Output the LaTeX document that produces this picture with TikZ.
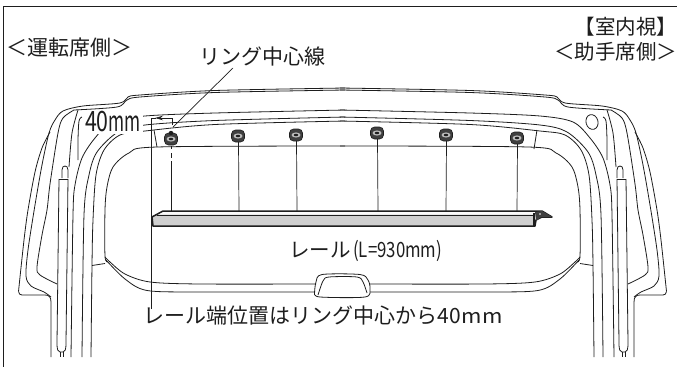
\documentclass[tikz,border=0pt]{standalone}
\usepackage{fontspec}
\setmainfont{Noto Sans CJK JP}
\usetikzlibrary{arrows.meta}
\definecolor{ink}{HTML}{1E1E1E}
\definecolor{railgray}{HTML}{CFCFCF}
\newcommand\jfs[1]{\fontsize{#1}{#1}\selectfont}
\newcommand\carside{%
  \draw[ln] (51,357) -- (51,302) .. controls (51,297) and (49,295) .. (45,295) -- (22,295) .. controls (20,295) and (19,294) .. (18.5,291.5);
  \draw[ln] plot[smooth,tension=.5] coordinates {(18.5,291.5)(24,240)(28,210)(35,172)(42,148)(50,132)};
  \draw[ln] plot[smooth,tension=.5] coordinates {(51,297)(44,292)(31,286)(26,276)(28,250)(35,205)(42,165)(49,133)(55,120)(63,111)(83,106)(120,103)(128,97)(140,95)(215,90.5)(345,88)};
  \draw[ln] plot[smooth,tension=.5] coordinates {(74,110)(117,107)(127,100)(140,97)(215,92.5)(345,90)};
  \draw[ln] plot[smooth,tension=.5] coordinates {(57,284)(40,275)(37,267)(42,235)(47,210)(50,184)(58,133)(63,118)(74,110)};
  \draw[ln] plot[smooth,tension=.5] coordinates {(82,117)(79,121)(78,140)(78,160)};
  \draw[ln] plot[smooth,tension=.5] coordinates {(78,110)(72,133)(69,167)};
  \draw[ln] (59,179) -- (57,343) .. controls (57,350) and (58,352) .. (60,352) -- (63,352) .. controls (65,352) and (66,350) .. (66,343) -- (68,179);
  \draw[ln] (60,352) -- (60,357) (63,352) -- (63,357);
  \draw[ln] (62,178) -- (62,170) .. controls (62,167) and (63.5,166) .. (65,166) .. controls (66.5,166) and (68,167) .. (68,170) -- (68,178);
  \draw[ink,line width=1pt] (59,179) -- (68,179);
  \draw[ln] plot[smooth,tension=.5] coordinates {(71,357)(73,215)(75,185)(82,158)(95,138)(112,122)(145,116)(215,113)(345,110)};
  \draw[ln] plot[smooth,tension=.5] coordinates {(82,357)(84,215)(89,175)(97,152)(118,132)(145,125)(215,120.5)(345,117)};
  \draw[ln] plot[smooth,tension=.5] coordinates {(91,357)(92,265)(93,220)(96,175)(104,150)(120,135)(145,131)(215,124.5)(345,121)};
  \draw[ln] (92,265.5) -- (105,263.5);
  \draw[ln] plot[smooth,tension=.5] coordinates {(108,262)(105,256)(105,210)(107,187)(113,167)(129,153)(157,147)(345,146)};
  \draw[ln] plot[smooth,tension=.5] coordinates {(105,257)(110,262)(125,274)(150,282)(200,284)(316,284)};
  \draw[ln] plot[smooth,tension=.5] coordinates {(106,260)(125,279)(147,290.5)(200,292)(315,292)};
}
\tikzset{
  ln/.style={ink,line width=.8pt,line join=round},
  thin line/.style={ink,line width=.7pt},
  lab/.style={inner sep=0pt,outer sep=0pt,text=ink,font=\jfs{20.5}},
  ringnode/.style={draw=ink,fill=ink!85,rounded corners=4pt,minimum width=13pt,minimum height=12pt,inner sep=0pt,line width=.6pt},
}
\begin{document}
\begin{tikzpicture}[x=1pt,y=-1pt]
\useasboundingbox (0,0) rectangle (677,367);
\fill[white] (0,0) rectangle (677,367);
% frame
\draw[ink,line width=1pt] (677,6.5) -- (3,6.5) -- (3,367);
% body, both sides
\carside
\begin{scope}[xshift=685pt,xscale=-1]
\carside
\end{scope}
% gap for the 40mm label
\fill[white] (84,111.5) rectangle (143,134.2);
% circle, seams
\draw[ln,rotate around={15:(592,122)}] (592,122) ellipse (6pt and 7.5pt);
\draw[ln] (154,130) -- (157,147);
\draw[ln] (537,130) -- (534,149);
% handle
\draw[ln] plot[smooth,tension=.5] coordinates {(314.5,293)(316,282)(322,274.5)(360,274.5)(368,280)(370,289)(365,297)(320,297)(314.5,293)};
\draw[ln] plot[smooth,tension=.5] coordinates {(318,295)(323,281)(329,277)(357,277)(363,282)(367,293)};
% rail
\fill[railgray] (152,216) -- (163,211.5) -- (533,211.5) -- (533,226) -- (152,226) -- cycle;
\fill[white!90!railgray] (163,212) -- (533,212) -- (533,214.5) -- (156,214.5) -- cycle;
\draw[ink,line width=1.5pt,line join=round] (152,217) -- (163,211) -- (542,211) -- (552,217) -- (542,217) -- (536,220) -- (535,226) -- (153,226) -- cycle;
\draw[ink,line width=.9pt] (157,215) -- (534,215);
\draw[ink,line width=1.3pt] (534,213) -- (534,226);
\fill[ink!85] (535,212) -- (542,211) -- (552,217) -- (541,217) -- (536,221) -- cycle;
\fill[white] (540,214) circle (.8pt);
% rings
\node[ringnode] (r1) at (171,139) {};
\fill[ink] (171,133) circle (2.2pt);
\node[ringnode] (r2) at (238,136) {};
\node[ringnode] (r3) at (296,135) {};
\node[ringnode] (r4) at (377,133) {};
\node[ringnode] (r5) at (446,135) {};
\node[ringnode] (r6) at (517,138) {};
\foreach \n in {r1,r2,r3,r4,r5,r6}{
  \fill[white!70!ink] (\n) ellipse (4.5pt and 2.6pt);
  \fill[ink] (\n) ellipse (2.2pt and 1.2pt);
}
\coordinate (f1) at (171,211);
\coordinate (f2) at (239,211);
\coordinate (f3) at (297,211);
\coordinate (f4) at (378,211);
\coordinate (f5) at (446,211);
\coordinate (f6) at (517,211);
\draw[thin line] (171,146) -- (171,149) (171,153) -- (171,158) (171,161) -- (f1);
\foreach \a/\b in {r2/f2,r3/f3,r4/f4,r5/f5,r6/f6}{ \draw[thin line] (\a) ++(0.5,6) -- (\b); }
% dimension
\coordinate (d0) at (151,118);
\coordinate (d1) at (151,309);
\coordinate (d2) at (172,118);
\coordinate (d3) at (172,125);
\draw[thin line] (d1) -- (d0) -- (156,118);
\draw[thin line,-{Stealth[length=8pt,width=4.5pt]}] (d3) -- (d2) -- (155,118);
% labels
\node[lab,anchor=west] (tDriver) at (6,48) {\jfs{21}＜運転席側＞};
\node[lab,anchor=west] (tView) at (574.5,27) {\jfs{20.5}【室内視】\kern-10pt};
\node[lab,anchor=east] (tAsst) at (677,52) {\jfs{20.5}＜助手席側＞};
\node[lab,anchor=west] (tCenter) at (199,57) {\jfs{21}リング中心線};
\coordinate (lc) at (173,127);
\draw[thin line] (233,68) -- (lc);
\node[lab,anchor=west] (t40) at (85,122) {\jfs{28}\scalebox{.76}[1]{40}\scalebox{.62}[1]{mm}};
\node[lab,anchor=west] (tRail) at (289,251) {\jfs{20.5}レール\scalebox{.8}[1]{\jfs{21}\,(L=930mm)}};
\node[lab,anchor=west] (tEnd) at (143,316) {\jfs{21}レール端位置はリング中心から\kern1pt 40\scalebox{1.05}[.95]{m}\hspace{1pt}\scalebox{1.05}[.95]{m}};
\end{tikzpicture}
\end{document}
